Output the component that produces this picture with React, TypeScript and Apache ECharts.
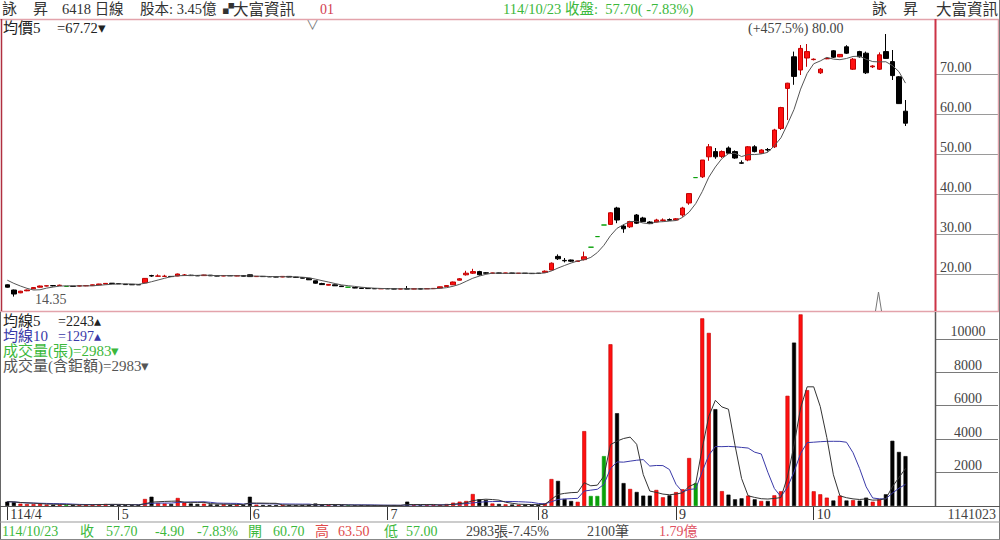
import React, { useEffect, useRef } from "react";
import * as echarts from "echarts";

// ---------- data ----------
const monthNums = [4, 5, 6, 7, 8, 9, 10];
const tradingDays: number[][] = [
  [8, 9, 10, 11, 14, 15, 16, 17, 18, 21, 22, 23, 24, 25, 28, 29, 30],
  [2, 5, 6, 7, 8, 9, 12, 13, 14, 15, 16, 19, 20, 21, 22, 23, 26, 27, 28, 29],
  [2, 3, 4, 5, 6, 9, 10, 11, 12, 13, 16, 17, 18, 19, 20, 23, 24, 25, 26, 27, 30],
  [1, 2, 3, 4, 7, 8, 9, 10, 11, 14, 15, 16, 17, 18, 21, 22, 23, 24, 25, 28, 29, 30, 31],
  [1, 4, 5, 6, 7, 8, 11, 12, 13, 14, 15, 18, 19, 20, 21, 22, 25, 26, 27, 28, 29],
  [1, 2, 3, 4, 5, 8, 9, 10, 11, 12, 15, 16, 17, 18, 19, 22, 23, 24, 25, 26, 30],
  [1, 2, 3, 7, 8, 9, 13, 14, 15, 16, 17, 20, 21, 22, 23],
];

// [open, high, low, close]
const candles: number[][] = [
  [17.3, 17.4, 16.6, 16.7], [16.0, 16.1, 14.35, 15.0], [15.3, 15.8, 15.2, 15.7], [15.8, 16.1, 15.7, 16.0],
  [16.3, 16.7, 16.2, 16.6], [16.7, 17.1, 16.6, 17.0], [17.0, 17.1, 16.9, 17.05], [17.1, 17.25, 16.9, 17.05],
  [17.1, 17.35, 17.0, 17.2], [16.9, 17.0, 16.85, 16.9], [16.95, 17.0, 16.85, 16.9], [17.0, 17.1, 16.9, 17.05],
  [17.05, 17.15, 16.95, 17.1], [17.1, 17.35, 17.05, 17.3], [17.3, 17.55, 17.25, 17.5], [17.5, 17.7, 17.45, 17.65],
  [17.7, 17.75, 17.5, 17.6], [17.6, 17.7, 17.5, 17.55], [17.45, 17.5, 17.3, 17.35], [17.4, 17.45, 17.25, 17.3],
  [17.35, 17.4, 17.25, 17.3], [17.8, 19.0, 17.7, 18.9], [19.6, 19.8, 19.3, 19.5], [19.45, 19.9, 19.4, 19.5],
  [19.4, 19.8, 19.35, 19.45], [19.4, 19.5, 19.3, 19.35], [19.5, 20.1, 19.45, 20.0], [19.7, 20.0, 19.6, 19.75],
  [19.7, 19.8, 19.55, 19.6], [19.6, 19.7, 19.5, 19.55], [19.6, 19.8, 19.55, 19.75], [19.7, 19.75, 19.5, 19.55],
  [19.55, 19.6, 19.45, 19.5], [19.5, 19.65, 19.45, 19.6], [19.6, 19.75, 19.5, 19.55], [19.5, 19.7, 19.45, 19.6],
  [19.6, 19.65, 19.4, 19.45], [19.8, 19.85, 19.3, 19.35], [19.35, 19.5, 19.3, 19.4], [19.4, 19.45, 19.3, 19.35],
  [19.35, 19.45, 19.25, 19.3], [19.3, 19.4, 19.2, 19.25], [19.25, 19.45, 19.2, 19.4], [19.4, 19.45, 19.2, 19.25],
  [19.2, 19.3, 19.1, 19.15], [19.1, 19.15, 18.9, 18.95], [18.9, 18.95, 18.5, 18.55], [18.3, 18.35, 17.6, 17.7],
  [17.6, 17.8, 17.3, 17.35], [17.2, 17.5, 17.15, 17.4], [17.3, 17.35, 17.0, 17.05], [17.0, 17.05, 16.8, 16.85],
  [16.7, 16.75, 16.65, 16.7], [16.6, 16.65, 16.45, 16.5], [16.5, 16.55, 16.35, 16.4], [16.4, 16.45, 16.3, 16.35],
  [16.35, 16.4, 16.3, 16.32], [16.3, 16.4, 16.25, 16.35], [16.35, 16.4, 16.25, 16.3], [16.3, 16.35, 16.2, 16.25],
  [16.25, 16.3, 16.2, 16.28], [16.3, 17.0, 16.2, 16.25], [16.25, 16.35, 16.2, 16.3], [16.3, 16.35, 16.2, 16.25],
  [16.3, 16.4, 16.25, 16.35], [16.35, 16.45, 16.3, 16.4], [16.5, 16.85, 16.45, 16.8], [16.85, 17.15, 16.8, 17.1],
  [17.3, 18.1, 17.25, 18.0], [18.45, 19.0, 18.4, 18.8], [19.8, 20.8, 19.6, 20.2], [20.2, 21.3, 20.0, 20.6],
  [20.6, 20.8, 19.6, 19.8], [20.3, 20.45, 20.1, 20.2], [20.2, 20.3, 20.1, 20.25], [20.25, 20.3, 20.15, 20.2],
  [20.2, 20.3, 20.15, 20.25], [20.25, 20.3, 20.1, 20.15], [20.15, 20.25, 20.1, 20.2], [20.2, 20.25, 20.1, 20.15],
  [20.15, 20.2, 20.05, 20.1], [20.2, 20.25, 20.1, 20.15], [20.4, 20.9, 20.3, 20.7], [21.0, 22.9, 20.9, 22.7],
  [24.4, 24.9, 23.5, 23.8], [23.4, 24.0, 22.9, 23.3], [23.5, 23.6, 23.0, 23.2], [23.15, 23.3, 23.1, 23.25],
  [23.6, 25.6, 23.4, 24.3], [26.7, 26.7, 26.7, 26.7], [29.35, 29.35, 29.35, 29.35], [32.25, 32.25, 32.25, 32.25],
  [32.4, 35.45, 32.3, 35.3], [36.5, 36.8, 32.7, 33.5], [32.0, 32.4, 30.3, 31.3], [31.8, 33.3, 31.5, 33.1],
  [34.75, 35.0, 32.5, 32.7], [34.0, 34.3, 33.0, 33.1], [33.0, 33.2, 32.5, 32.6], [33.0, 33.8, 32.9, 33.5],
  [33.4, 33.9, 33.1, 33.5], [33.6, 33.9, 33.3, 33.45], [33.5, 34.0, 33.3, 33.8], [34.75, 36.8, 34.3, 36.5],
  [37.75, 40.15, 37.3, 40.1], [44.1, 44.1, 44.1, 44.1], [44.3, 48.5, 44.0, 48.5], [49.3, 52.5, 48.3, 51.8],
  [50.6, 51.5, 48.8, 49.3], [49.4, 50.9, 49.0, 50.6], [51.5, 51.9, 50.0, 50.2], [50.6, 50.9, 48.8, 49.0],
  [47.8, 48.4, 47.5, 47.7], [48.5, 52.0, 48.2, 51.8], [51.8, 52.2, 50.4, 50.6], [50.2, 51.2, 50.0, 51.0],
  [51.1, 51.5, 50.6, 51.0], [51.8, 56.3, 51.5, 56.0], [56.4, 61.8, 56.0, 61.6], [66.4, 67.8, 58.5, 67.7],
  [74.3, 75.6, 67.3, 69.4], [71.0, 77.25, 69.75, 76.4], [74.0, 77.5, 71.8, 75.6], [73.6, 73.9, 73.4, 73.7],
  [70.3, 71.5, 70.0, 71.2], [73.8, 74.1, 73.7, 73.9], [75.8, 76.0, 74.0, 74.2], [74.3, 75.0, 74.2, 74.9],
  [76.8, 77.2, 75.0, 75.2], [71.2, 74.0, 71.0, 73.7], [75.6, 75.8, 74.1, 74.3], [75.2, 75.6, 70.0, 70.3],
  [71.8, 72.2, 71.5, 72.0], [71.2, 75.4, 71.0, 74.8], [75.6, 80.0, 73.8, 73.9], [73.1, 76.0, 68.5, 69.6],
  [69.3, 69.5, 62.5, 62.6], [60.7, 63.5, 57.0, 57.7],
];

const volumes: number[] = [
  260, 230, 140, 120, 110, 130, 90, 80, 90, 60,
  70, 60, 80, 100, 110, 120, 90, 70, 60, 50,
  60, 420, 555, 180, 150, 120, 480, 200, 150, 120,
  140, 100, 90, 110, 80, 90, 70, 555, 80, 60,
  50, 60, 70, 60, 50, 60, 80, 150, 90, 70,
  60, 50, 40, 40, 50, 40, 30, 40, 40, 50,
  40, 260, 50, 40, 50, 60, 80, 120, 200, 260,
  300, 716, 400, 360, 150, 120, 100, 90, 80, 90,
  70, 80, 160, 1612, 1500, 420, 300, 250, 4478, 600,
  600, 2985, 9670, 5550, 1370, 1020, 840, 620, 620, 960,
  520, 640, 830, 1000, 2870, 1370, 11220, 10350, 5790, 890,
  680, 400, 460, 620, 400, 300, 300, 640, 880, 6590,
  9770, 11460, 6930, 880, 700, 500, 330, 620, 330, 350,
  320, 500, 255, 400, 700, 3900, 3232, 2983,
];

// closes of the four sessions before the first bar (feed the 5-day average)
const preCloses = [19.0, 19.0, 18.9, 18.7];

const priceTicks = [20, 30, 40, 50, 60, 70];
const volumeTicks = [2000, 4000, 6000, 8000, 10000];
const padSlots = 4;

// ---------- derived ----------
const categories: string[] = [];
const monthLabel: Record<string, string> = {};
const monthStart = new Set<number>();
tradingDays.forEach((days, mi) => {
  days.forEach((d, di) => {
    const key = `114/${monthNums[mi]}/${d}`;
    if (di === 0) {
      monthStart.add(categories.length);
      monthLabel[key] = mi === 0 ? `114/${monthNums[mi]}` : `${monthNums[mi]}`;
    }
    categories.push(key);
  });
});
const axisCats = categories.concat(Array.from({ length: padSlots }, (_, k) => `pad${k}`));

const RED = "#ff1010";
const RED_B = "#c00000";
const BLACK = "#000000";
const GREEN = "#0aa00a";

const closes = candles.map((c) => c[3]);
const allCloses = preCloses.concat(closes);
const priceMA5 = closes.map((_, i) => {
  const j = i + preCloses.length;
  const w = allCloses.slice(j - 4, j + 1);
  return +(w.reduce((a, b) => a + b, 0) / w.length).toFixed(3);
});
const volMA = (n: number) =>
  volumes.map((_, i) => {
    const w = volumes.slice(Math.max(0, i - n + 1), i + 1);
    return +(w.reduce((a, b) => a + b, 0) / w.length).toFixed(1);
  });
const volMA5 = volMA(5);
const volMA10 = volMA(10);

const colorOf = (c: number[]) => (c[3] === c[0] ? GREEN : c[3] > c[0] ? RED : BLACK);

const candleData = candles.map((c) => {
  const col = colorOf(c);
  const border = col === RED ? RED_B : col;
  return {
    value: [c[0], c[3], c[2], c[1]],
    itemStyle: { color: col, color0: col, borderColor: border, borderColor0: border, borderWidth: 1 },
  };
});
const volumeData = candles.map((c, i) => {
  const col = colorOf(c);
  return {
    value: volumes[i],
    itemStyle: { color: col, borderColor: col === RED ? RED_B : col, borderWidth: 0.6 },
  };
});

const FONT_FAMILY = '"Liberation Serif", "Noto Sans CJK TC", serif';

function txt(text: string, x: number, y: number, fill: string, size = 14, align = "left") {
  return {
    type: "text",
    x,
    y,
    silent: true,
    z: 100,
    style: {
      text,
      fill,
      font: `${size}px ${FONT_FAMILY}`,
      textAlign: align,
      textVerticalAlign: "middle",
      align,
      verticalAlign: "middle",
    },
  };
}
function ln(x1: number, y1: number, x2: number, y2: number, stroke: string, lineWidth = 1) {
  return { type: "line", silent: true, z: 90, shape: { x1, y1, x2, y2 }, style: { stroke, lineWidth } };
}

const GREEN_T = "#3cb83c";
const DARK = "#333333";
const PINK = "#e3a3ab";

const graphics: any[] = [
  // frame lines
  ln(0, 19.5, 1000, 19.5, PINK, 1.5),
  ln(0, 311.5, 1000, 311.5, PINK, 1.5),
  ln(1.5, 19, 1.5, 311, "#b03040", 1.5),
  ln(935.5, 19, 935.5, 311, "#cc3346", 2),
  ln(998.5, 19, 998.5, 311, PINK, 1.5),
  ln(935.5, 312, 935.5, 506, "#555555", 1.5),
  ln(0.5, 312, 0.5, 540, "#666666", 1),
  ln(999.5, 0, 999.5, 540, "#777777", 1),
  ln(0, 506.5, 1000, 506.5, "#555555", 1.2),
  ln(0, 522, 1000, 522, "#999999", 1),
  ln(0, 539.5, 1000, 539.5, "#888888", 1),
  // header
  txt("詠", 2, 9, DARK, 15),
  txt("昇", 33, 9, DARK, 15),
  txt("6418 日線", 62, 9, DARK, 14.5),
  txt("股本: 3.45億", 140, 9, DARK, 14.5),
  txt("▞", 223, 9, DARK, 11),
  txt("大富資訊", 233, 9, DARK, 15.5),
  txt("01", 320, 9, "#d23c50"),
  txt("114/10/23 收盤:  57.70( -7.83%)", 503, 9, GREEN_T, 14.5),
  txt("詠", 872, 9, DARK, 15),
  txt("昇", 903, 9, DARK, 15),
  txt("大富資訊", 936, 9, DARK, 15.5),
  // price panel legend & notes
  txt("均價5", 3, 28, "#222222", 15),
  txt("=67.72▾", 57, 28, "#222222", 14.5),
  txt("∨", 306, 24, "#777777", 13),
  txt("(+457.5%) 80.00", 748, 28, "#444444"),
  txt("14.35", 35, 299, "#555555"),
  {
    type: "polyline",
    silent: true,
    z: 95,
    shape: { points: [[875.5, 311], [878.5, 292], [881.5, 311]] },
    style: { stroke: "#777777", fill: "none", lineWidth: 1 },
  },
  // volume legend
  txt("均線5", 3, 321, "#222222", 15),
  txt("=2243▴", 58, 321, "#222222"),
  txt("均線10", 3, 336, "#3a3aa8", 15),
  txt("=1297▴", 58, 336, "#3a3aa8"),
  txt("成交量(張)=2983▾", 3, 351, GREEN_T, 15),
  txt("成交量(含鉅額)=2983▾", 3, 366, "#555555", 15),
  // date row right
  txt("1141023", 996, 514, "#444444", 14, "right"),
  // status bar
  txt("114/10/23", 2, 531, GREEN_T),
  txt("收", 80, 531, GREEN_T),
  txt("57.70", 106, 531, GREEN_T),
  txt("-4.90", 155, 531, GREEN_T),
  txt("-7.83%", 197, 531, GREEN_T),
  txt("開", 248, 531, GREEN_T),
  txt("60.70", 273, 531, GREEN_T),
  txt("高", 315, 531, "#e04a4a"),
  txt("63.50", 338, 531, "#e04a4a"),
  txt("低", 384, 531, GREEN_T),
  txt("57.00", 406, 531, GREEN_T),
  txt("2983張-7.45%", 466, 531, "#444444"),
  txt("2100筆", 587, 531, "#444444"),
  txt("1.79億", 659, 531, "#e05060"),
];

const option: any = {
  animation: false,
  backgroundColor: "#ffffff",
  grid: [
    { left: 4, right: 65, top: 19, height: 292 },
    { left: 4, right: 65, top: 312, height: 194 },
  ],
  xAxis: [
    { type: "category", gridIndex: 0, data: axisCats, boundaryGap: true, show: false },
    {
      type: "category",
      gridIndex: 1,
      data: axisCats,
      boundaryGap: true,
      axisLine: { show: false },
      splitLine: { show: false },
      axisTick: {
        show: true,
        alignWithLabel: true,
        interval: (i: number) => monthStart.has(i),
        length: 14,
        lineStyle: { color: "#333333", width: 1 },
      },
      axisLabel: {
        show: true,
        interval: (i: number) => monthStart.has(i),
        formatter: (v: string) => monthLabel[v] || "",
        align: "left",
        margin: 1,
        padding: [0, 0, 0, 3],
        color: "#333333",
        fontSize: 14,
        fontFamily: FONT_FAMILY,
      },
    },
  ],
  yAxis: [
    {
      type: "value",
      gridIndex: 0,
      position: "right",
      min: 10.75,
      max: 83.75,
      axisLine: { show: false },
      splitLine: { show: false },
      axisTick: { show: true, inside: false, length: 63, customValues: priceTicks, lineStyle: { color: "#9a9a9a", width: 1 } },
      axisLabel: {
        show: true,
        customValues: priceTicks,
        inside: false,
        margin: 5,
        align: "left",
        verticalAlign: "bottom",
        formatter: (v: number) => v.toFixed(2),
        color: "#444444",
        fontSize: 14,
        fontFamily: FONT_FAMILY,
      },
    },
    {
      type: "value",
      gridIndex: 1,
      position: "right",
      min: 0,
      max: 11600,
      axisLine: { show: false },
      splitLine: { show: false },
      axisTick: { show: true, inside: false, length: 63, customValues: volumeTicks, lineStyle: { color: "#7a7a7a", width: 1 } },
      axisLabel: {
        show: true,
        customValues: volumeTicks,
        inside: false,
        margin: 33,
        align: "center",
        verticalAlign: "bottom",
        formatter: (v: number) => String(v),
        color: "#444444",
        fontSize: 14,
        fontFamily: FONT_FAMILY,
      },
    },
  ],
  series: [
    {
      type: "candlestick",
      xAxisIndex: 0,
      yAxisIndex: 0,
      barWidth: 5,
      data: candleData,
      z: 3,
    },
    {
      type: "line",
      xAxisIndex: 0,
      yAxisIndex: 0,
      data: priceMA5,
      symbol: "none",
      lineStyle: { color: "#555555", width: 1 },
      z: 4,
    },
    {
      type: "bar",
      xAxisIndex: 1,
      yAxisIndex: 1,
      barWidth: 4,
      data: volumeData,
      z: 3,
    },
    {
      type: "line",
      xAxisIndex: 1,
      yAxisIndex: 1,
      data: volMA10,
      symbol: "none",
      lineStyle: { color: "#3a3aa8", width: 1 },
      z: 4,
    },
    {
      type: "line",
      xAxisIndex: 1,
      yAxisIndex: 1,
      data: volMA5,
      symbol: "none",
      lineStyle: { color: "#333333", width: 1 },
      z: 5,
    },
  ],
  graphic: graphics,
};

export default function App() {
  const ref = useRef<HTMLDivElement>(null);
  useEffect(() => {
    document.body.style.margin = "0";
    const chart = echarts.init(ref.current as HTMLDivElement, null, { renderer: "svg", width: 1000, height: 540 });
    chart.setOption(option);
    return () => chart.dispose();
  }, []);
  return <div ref={ref} style={{ width: 1000, height: 540 }} />;
}
